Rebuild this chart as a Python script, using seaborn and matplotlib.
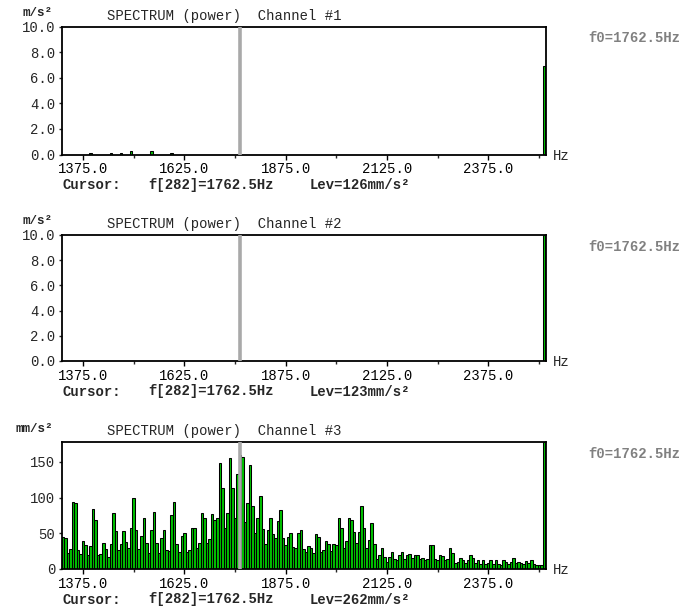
import numpy as np
import pandas as pd
import matplotlib
matplotlib.use("Agg")
import matplotlib.pyplot as plt
import seaborn as sns

# ---------------- data ----------------
f_step = 6.25
freq = 1325.0 + f_step * np.arange(191)          # spectral lines (Hz)

ch1_idx = [11, 19, 23, 27, 35, 43, 190]
ch1_val = [0.12, 0.1, 0.12, 0.25, 0.25, 0.12, 6.95]

ch2_idx = [190]
ch2_val = [10.0]

ch3 = [45, 44, 23, 28, 94, 93, 26, 21, 39, 34,
       19, 32, 84, 68, 19, 21, 37, 28, 17, 35,
       79, 53, 26, 35, 53, 38, 29, 57, 100, 55,
       28, 46, 71, 37, 23, 55, 80, 37, 23, 43,
       55, 26, 25, 76, 94, 35, 24, 46, 51, 24,
       26, 57, 57, 29, 37, 79, 72, 36, 42, 77,
       69, 71, 148, 113, 57, 78, 155, 113, 71, 133,
       160, 157, 66, 93, 146, 88, 50, 71, 103, 56,
       35, 54, 71, 49, 43, 67, 83, 44, 33, 45,
       51, 31, 29, 51, 55, 28, 24, 32, 30, 22,
       49, 45, 24, 26, 39, 35, 25, 35, 34, 72,
       57, 29, 39, 71, 69, 52, 36, 52, 89, 58,
       29, 40, 64, 35, 14, 20, 29, 17, 10, 17,
       24, 14, 12, 19, 24, 14, 19, 21, 15, 19,
       19, 14, 15, 13, 14, 33, 33, 14, 12, 19,
       18, 12, 14, 30, 22, 8, 10, 16, 13, 8,
       12, 19, 15, 8, 13, 7, 13, 7, 8, 13,
       7, 12, 7, 6, 12, 10, 7, 10, 15, 8,
       10, 8, 7, 11, 8, 13, 7, 6, 6, 6, 178]

ch1 = np.zeros(len(freq)); ch1[ch1_idx] = ch1_val
ch2 = np.zeros(len(freq)); ch2[ch2_idx] = ch2_val
ch3 = np.array(ch3, dtype=float)

channels = ["Channel #1", "Channel #2", "Channel #3"]
units = ["m/s\u00b2", "m/s\u00b2", "mm/s\u00b2"]
ylims = [10.0, 10.0, 178.0]
yticks = [[0, 2, 4, 6, 8, 10], [0, 2, 4, 6, 8, 10], [0, 50, 100, 150]]
ytick_fmt = ["{:.1f}", "{:.1f}", "{:d}"]
xticks_major = [1375.0, 1625.0, 1875.0, 2125.0, 2375.0]
xticks_minor = [1500.0, 1750.0, 2000.0, 2250.0, 2500.0]
levels = ["Lev=126mm/s\u00b2", "Lev=123mm/s\u00b2", "Lev=262mm/s\u00b2"]
cursor_f = 1762.5
cursor_txt = "f[282]=1762.5Hz"
f0_txt = "f0=1762.5Hz"

# ---------------- style ----------------
sns.set_style("white")
MONO = ["Liberation Mono", "DejaVu Sans Mono"]
plt.rcParams["font.family"] = MONO

W, H = 687, 610
fig = plt.figure(figsize=(W / 100, H / 100), dpi=100)

ax_left, ax_right = 61.5, 546.0
tops = [27, 235, 442]
bottoms = [154.5, 361, 569]

edges = [float(v) for v in np.concatenate([freq - f_step / 2, [freq[-1] + f_step / 2]])]


def ftext(x, y, s, **kw):
    kw.setdefault("va", "center")
    kw.setdefault("family", MONO)
    fig.text(x / W, 1 - y / H, s, **kw)


for i, vals in enumerate([ch1, ch2, ch3]):
    t, b = tops[i], bottoms[i]
    ax = fig.add_axes([ax_left / W, 1 - b / H, (ax_right - ax_left) / W, (b - t) / H])
    df = pd.DataFrame({"freq": freq, "amp": vals})
    sns.histplot(data=df, x="freq", weights="amp", bins=edges, ax=ax, color="#00c000",
                 edgecolor="black", linewidth=0.75, alpha=1.0, zorder=2)
    ax.axvline(cursor_f, color="#a9a9a9", lw=2.6, zorder=5)
    ax.set_xlim(edges[0], edges[-1] + 2.0)
    ax.set_ylim(0, ylims[i])
    ax.set_xlabel("")
    ax.set_ylabel("")
    ax.set_xticks(xticks_major)
    ax.set_xticks(xticks_minor, minor=True)
    ax.set_xticklabels([f"{v:.1f}" for v in xticks_major], family=MONO, fontsize=10)
    ax.set_yticks(yticks[i])
    ax.set_yticklabels([ytick_fmt[i].format(v) for v in yticks[i]], family=MONO, fontsize=10)
    ax.tick_params(axis="x", which="major", direction="out", length=3.5, width=1,
                   pad=2, bottom=True, colors="black")
    ax.tick_params(axis="x", which="minor", direction="out", length=2, width=1, bottom=True)
    ax.tick_params(axis="y", which="major", direction="out", length=2.5, width=1,
                   pad=2, left=True)
    for sp in ax.spines.values():
        sp.set_visible(True)
        sp.set_color("black")
        sp.set_linewidth(1.3)
    ax.set_facecolor("white")

    # annotations
    ftext(53, t - 13.5, units[i], ha="right", fontsize=9, fontweight="bold")
    ftext(107, t - 11, "SPECTRUM (power)  " + channels[i], ha="left", fontsize=10)
    ftext(553, b + 1.5, "Hz", ha="left", fontsize=10)
    ftext(588, t + 11.5, f0_txt, ha="left", fontsize=10, fontweight="bold", color="#808080")
    ftext(62, b + 30.5, "Cursor:", ha="left", fontsize=10, fontweight="bold")
    ftext(148, b + 30.5, cursor_txt, ha="left", fontsize=10, fontweight="bold")
    ftext(310, b + 30.5, levels[i], ha="left", fontsize=10, fontweight="bold")

fig.savefig("out.png", dpi=100, facecolor="white")
